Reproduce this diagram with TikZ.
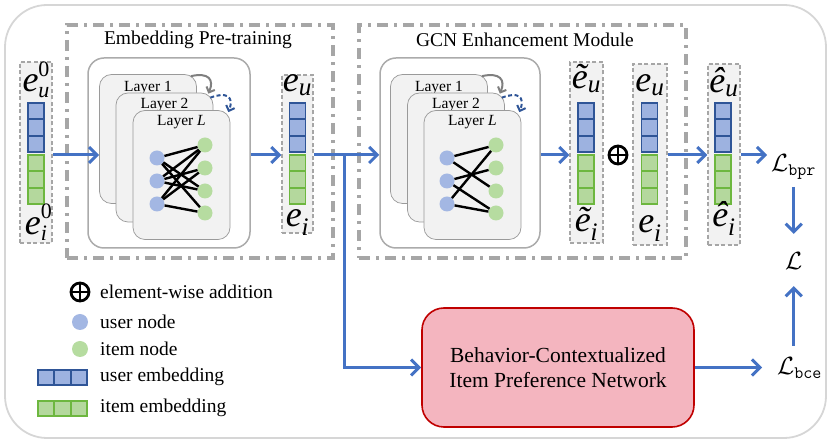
\documentclass[tikz,border=0pt]{standalone}
\usepackage{amsmath}
\usepackage{fontspec}
\setmainfont{Liberation Serif}
\usetikzlibrary{arrows.meta,calc}
\definecolor{outergray}{HTML}{D6D6D6}
\definecolor{ddgray}{HTML}{A6A6A6}
\definecolor{boxgray}{HTML}{ABABAB}
\definecolor{cardgray}{HTML}{9A9A9A}
\definecolor{cardfill}{HTML}{F2F2F2}
\definecolor{ublue}{HTML}{2F5597}
\definecolor{ufill}{HTML}{9DB2E0}
\definecolor{igreen}{HTML}{6DB73F}
\definecolor{ifill}{HTML}{B4D89D}
\definecolor{unodec}{HTML}{A3B7E3}
\definecolor{inodec}{HTML}{B6DCA0}
\definecolor{arrblue}{HTML}{4472C4}
\definecolor{loopblue}{HTML}{2F5597}
\definecolor{loopgray}{HTML}{7F7F7F}
\definecolor{netred}{HTML}{C00000}
\definecolor{netpink}{HTML}{F4B5BF}
\tikzset{
  outerbox/.style={draw=outergray, line width=1.8pt, rounded corners=42pt},
  ddbox/.style={draw=ddgray, line width=3.2pt, dash pattern=on 11pt off 6pt on 3pt off 6pt},
  gbox/.style={draw=boxgray, line width=1.5pt, fill=white, rounded corners=16pt},
  card/.style={draw=cardgray, line width=0.7pt, fill=cardfill, rounded corners=12pt, minimum width=97pt, minimum height=129pt},
  colbox/.style={draw=ddgray, fill=cardfill, line width=1.2pt, dash pattern=on 4pt off 2.5pt},
  usq/.style={draw=ublue, fill=ufill, line width=1.9pt},
  isq/.style={draw=igreen, fill=ifill, line width=1.9pt},
  unode/.style={circle, fill=unodec, minimum size=15pt, inner sep=0pt},
  inode/.style={circle, fill=inodec, minimum size=15pt, inner sep=0pt},
  gedge/.style={black, line width=2.4pt},
  arr/.style={draw=arrblue, line width=3pt, -{Straight Barb[length=8pt,width=16pt]}},
  grayloop/.style={draw=loopgray, line width=2pt, -{Straight Barb[length=4.5pt,width=9pt]}},
  blueloop/.style={draw=loopblue, line width=2pt, dash pattern=on 4pt off 2.5pt, -{Straight Barb[length=4.5pt,width=9pt]}},
  titletext/.style={font=\fontsize{19.5}{23}\selectfont, inner sep=0pt},
  legtext/.style={font=\fontsize{19.5}{23}\selectfont, inner sep=0pt, anchor=west},
  ltext/.style={font=\fontsize{15.5}{18}\selectfont, inner sep=0pt},
  lab/.style={font=\fontsize{36}{40}\selectfont, inner sep=0pt, anchor=base},
  lossl/.style={font=\fontsize{25}{29}\selectfont, inner sep=0pt, anchor=base west},
  oplus/.style={circle, draw=black, line width=2.8pt, minimum size=18pt, inner sep=0pt,
    path picture={\draw[line width=2.8pt] (path picture bounding box.north) -- (path picture bounding box.south)
      (path picture bounding box.west) -- (path picture bounding box.east);}},
  net/.style={draw=netred, fill=netpink, line width=1.6pt, rounded corners=22pt, minimum width=272pt,
    minimum height=119pt, align=center, font=\fontsize{21.5}{25}\selectfont},
}
\newcommand\embcol[1]{%
  \foreach \k in {0,1,2}{%
    \draw[usq] (#1,103+16.3*\k) rectangle ++(16,16.3);
    \draw[isq] (#1,155+16.3*\k) rectangle ++(16,16.3);
  }}
\newcommand\subsz{\fontsize{22}{22}\selectfont}
\newcommand\eZero[2]{\textit{e}\rlap{\raisebox{#2}{\subsz 0}}\raisebox{-6pt}{\subsz\itshape #1}}
\begin{document}
\begin{tikzpicture}[x=1pt,y=-1pt]
\useasboundingbox (0,0) rectangle (831,443);
\draw[outerbox] (5,5) rectangle (826,438);
% dash-dot module boxes
\node[ddbox, minimum width=266pt, minimum height=233pt] (pre) at (200,141.5) {};
\node[ddbox, minimum width=327pt, minimum height=233pt] (gcn) at (522.5,141.5) {};
\node[titletext] (pret) at (198,40) {Embedding Pre-training};
\node[titletext] (gcnt) at (525,40) {GCN Enhancement Module};
% embedding columns
\node[colbox, minimum width=32pt, minimum height=181pt] (c0) at (36,152.5) {};
\node[colbox, minimum width=31pt, minimum height=158pt] (c1) at (297.5,154) {};
\node[colbox, minimum width=33pt, minimum height=181pt] (c2) at (586.5,152.5) {};
\node[colbox, minimum width=34pt, minimum height=181pt] (c3) at (650,154.5) {};
\node[colbox, minimum width=32pt, minimum height=181pt] (c4) at (724,154.5) {};
\embcol{28}
\embcol{289.5}
\embcol{578}
\embcol{641.5}
\embcol{715}
\node[lab] (c0t) at (36,92) {\eZero{u}{15.5pt}};
\node[lab] (c0b) at (36,235) {\eZero{i}{16pt}};
\node[lab] (c1t) at (297.5,92) {$\textit{e}_{\textit{u}}$};
\node[lab] (c1b) at (297.5,227) {$\textit{e}_{\textit{i}}$};
\node[lab] (c2t) at (586.5,89) {$\text{\itshape\~{e}}_{\textit{u}}$};
\node[lab] (c2b) at (586.5,232) {$\text{\itshape\~{e}}_{\textit{i}}$};
\node[lab] (c3t) at (650,92) {$\textit{e}_{\textit{u}}$};
\node[lab] (c3b) at (650,233) {$\textit{e}_{\textit{i}}$};
\node[lab] (c4t) at (724,93) {$\text{\itshape\^{e}}_{\textit{u}}$};
\node[lab] (c4b) at (724,227) {$\text{\itshape\^{e}}_{\textit{i}}$};
% GCN boxes
\node[gbox, minimum width=162pt, minimum height=190pt] (g1) at (169,153) {};
\node[gbox, minimum width=160pt, minimum height=190pt] (g2) at (460,153) {};
% layers, first
\node[card] (g1a) at (148,139) {};
\node[ltext] (g1at) at (148,88) {Layer 1};
\node[card] (g1b) at (164.5,157.5) {};
\node[ltext] (g1bt) at (164.5,105) {Layer 2};
\node[card] (g1c) at (181.5,175) {};
\node[ltext] (g1ct) at (181.5,122) {Layer \textit{L}};
% layers, second
\node[card] (g2a) at (439,139) {};
\node[ltext] (g2at) at (439,88) {Layer 1};
\node[card] (g2b) at (456,157.5) {};
\node[ltext] (g2bt) at (456,105) {Layer 2};
\node[card] (g2c) at (472.5,175) {};
\node[ltext] (g2ct) at (472.5,122) {Layer \textit{L}};
% loops
\draw[grayloop] ([xshift=-6pt,yshift=-2pt]g1a.north east) .. controls +(18,-4) and +(6,-14) .. ([xshift=-5pt,yshift=-1pt]g1b.north east);
\draw[blueloop] ([xshift=-3pt,yshift=-5pt]g1b.north east) .. controls +(16,-6) and +(6,-16) .. ([xshift=-2pt,yshift=-2pt]g1c.north east);
\draw[grayloop] ([xshift=-6pt,yshift=-2pt]g2a.north east) .. controls +(18,-4) and +(6,-14) .. ([xshift=-5pt,yshift=-1pt]g2b.north east);
\draw[blueloop] ([xshift=-3pt,yshift=-5pt]g2b.north east) .. controls +(16,-6) and +(6,-16) .. ([xshift=-2pt,yshift=-2pt]g2c.north east);
% graph 1
\foreach \n/\y in {1/158,2/181,3/204} \node[unode] (pu\n) at (157,\y) {};
\foreach \n/\y in {1/145,2/168,3/191,4/213} \node[inode] (pi\n) at (205,\y) {};
\foreach \a/\b in {1/1,1/3,1/4,2/1,2/2,2/3,3/1,3/2,3/4} \draw[gedge] (pu\a) -- (pi\b);
% graph 2
\foreach \n/\y in {1/158,2/181,3/204} \node[unode] (qu\n) at (447,\y) {};
\foreach \n/\y in {1/145,2/168,3/191,4/213} \node[inode] (qi\n) at (496,\y) {};
\foreach \a/\b in {1/1,1/3,2/2,2/4,3/1,3/4} \draw[gedge] (qu\a) -- (qi\b);
% network
\node[net] (net) at (558,367.5) {Behavior-Contextualized\\Item Preference Network};
% losses
\node[lossl] (Lbpr) at (771,172) {$\mathcal{L}_{\texttt{bpr}}$};
\node[lossl] (L) at (785,270) {$\mathcal{L}$};
\node[lossl] (Lbce) at (777,375) {$\mathcal{L}_{\texttt{bce}}$};
% arrows
\coordinate (ay) at (0,155);
\draw[arr] (c0.east |- ay) -- (g1a.west |- ay);
\draw[arr] (g1.east |- ay) -- (c1.west |- ay);
\draw[arr] (c1.east |- ay) -- (g2.west |- ay);
\coordinate (br) at (344,155);
\draw[arr] (br) |- (net.west);
\draw[arr] (g2.east |- ay) -- (c2.west |- ay);
\node[oplus] (op) at (618,155) {};
\draw[arr] (c3.east |- ay) -- (c4.west |- ay);
\draw[arr, shorten >=4pt] (c4.east |- ay) -- (Lbpr.west |- ay);
\draw[arr, shorten <=7pt, shorten >=19pt] (Lbpr.south -| L.north) -- (L.north);
\draw[arr, shorten <=12pt, shorten >=16pt] (Lbce.north -| L.south) -- (L.south);
\draw[arr, shorten >=15pt] (net.east) -- (net.east -| Lbce.west);
% legend
\node[oplus] (lop) at (80,292) {};
\node[legtext] (lopt) at (100,292) {element-wise addition};
\node[unode, minimum size=16pt] (lun) at (80,322) {};
\node[legtext] (lunt) at (100,322) {user node};
\node[inode, minimum size=16pt] (lin) at (80,349) {};
\node[legtext] (lint) at (100,349) {item node};
\foreach \k in {0,1,2} \draw[usq] (38+16.3*\k,370) rectangle ++(16.3,15);
\node[legtext] (lue) at (100,377) {user embedding};
\foreach \k in {0,1,2} \draw[isq] (38+16.3*\k,401) rectangle ++(16.3,15);
\node[legtext] (lie) at (100,408) {item embedding};
\end{tikzpicture}
\end{document}
